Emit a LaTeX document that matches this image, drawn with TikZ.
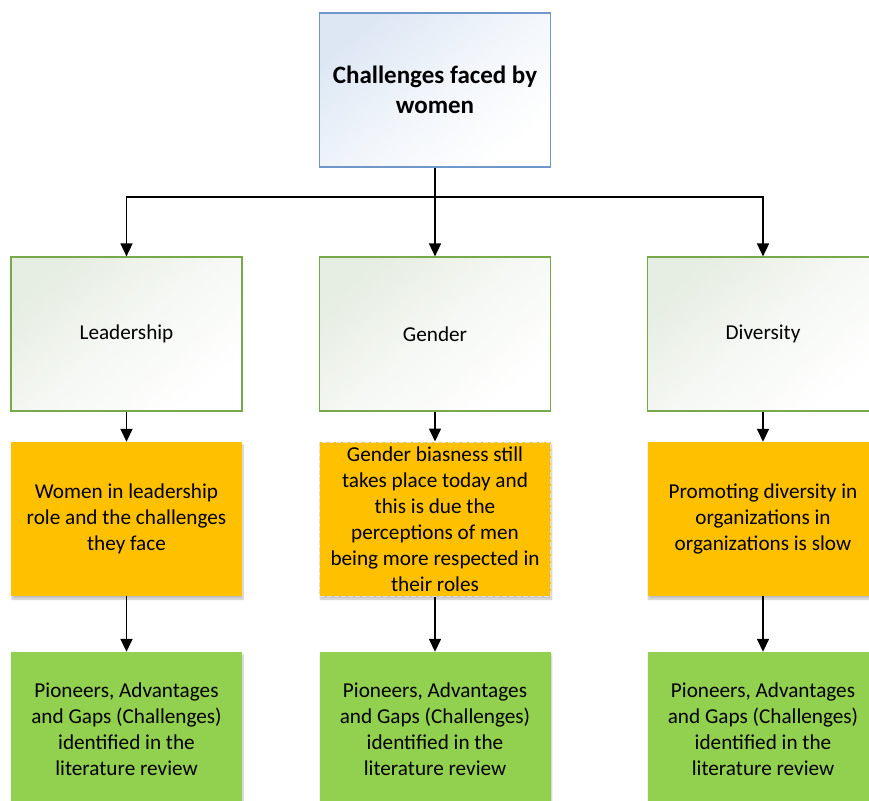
\documentclass[tikz,border=0pt]{standalone}
\usepackage{fontspec}
\setmainfont{Carlito}
\usetikzlibrary{arrows.meta,shadows.blur}
\definecolor{topblue}{HTML}{6F97CC}
\definecolor{topfill}{HTML}{DDE7F4}
\definecolor{grnline}{HTML}{77A94A}
\definecolor{grnfill}{HTML}{E6EDE2}
\definecolor{orng}{HTML}{FFC000}
\definecolor{lime}{HTML}{92D050}
\tikzset{
  box/.style={rectangle, minimum width=231pt, minimum height=154pt, align=center, inner sep=2pt,
    font=\fontsize{21.2}{26}\selectfont, text=black},
  titlebox/.style={box, draw=topblue, line width=1.2pt, top color=topfill, bottom color=white, middle color=white!60!topfill, shading angle=40,
    font=\fontsize{25}{30}\selectfont\bfseries},
  catbox/.style={box, draw=grnline, line width=1.2pt, top color=grnfill, bottom color=white, middle color=white!60!grnfill, shading angle=40},
  issuebox/.style={box, fill=orng, blur shadow={shadow xshift=1pt, shadow yshift=-3pt, shadow blur steps=6, shadow opacity=25}},
  resbox/.style={box, fill=lime, blur shadow={shadow xshift=1pt, shadow yshift=-3pt, shadow blur steps=6, shadow opacity=25}},
  conn/.style={draw=black, line width=1.6pt},
  arr/.style={conn, -{Triangle[width=12pt,length=13pt]}},
}
\begin{document}
\begin{tikzpicture}[x=1pt,y=-1pt]
\useasboundingbox (0,0) rectangle (869,800);
\clip (0,0) rectangle (869,800);
\node[titlebox] (top) at (435,90) {Challenges faced by\\women};
\node[catbox] (lead) at (126.5,334) {Leadership};
\node[catbox] (gen) at (435,334) {Gender};
\node[catbox] (div) at (763,334) {Diversity};
\node[issuebox] (i1) at (126.5,519) {Women in leadership\\role and the challenges\\they face};
\node[issuebox, draw=gray!25, line width=1pt, dash pattern=on 5pt off 2pt] (i2) at (435,519) {Gender biasness still\\takes place today and\\this is due the\\perceptions of men\\being more respected in\\their roles};
\node[issuebox] (i3) at (763,519) {Promoting diversity in\\organizations in\\organizations is slow};
\node[resbox] (r1) at (126.5,729) {Pioneers, Advantages\\and Gaps (Challenges)\\identified in the\\literature review};
\node[resbox] (r2) at (435,729) {Pioneers, Advantages\\and Gaps (Challenges)\\identified in the\\literature review};
\node[resbox] (r3) at (763,729) {Pioneers, Advantages\\and Gaps (Challenges)\\identified in the\\literature review};
\coordinate (bus) at (435,197);
\draw[conn] (top.south) -- (bus);
\draw[arr] (bus) -| (lead.north);
\draw[arr] (bus) -- (gen.north);
\draw[arr] (bus) -| (div.north);
\draw[arr] (lead) -- (i1);
\draw[arr] (gen) -- (i2);
\draw[arr] (div) -- (i3);
\draw[arr] (i1) -- (r1);
\draw[arr] (i2) -- (r2);
\draw[arr] (i3) -- (r3);
\end{tikzpicture}
\end{document}
